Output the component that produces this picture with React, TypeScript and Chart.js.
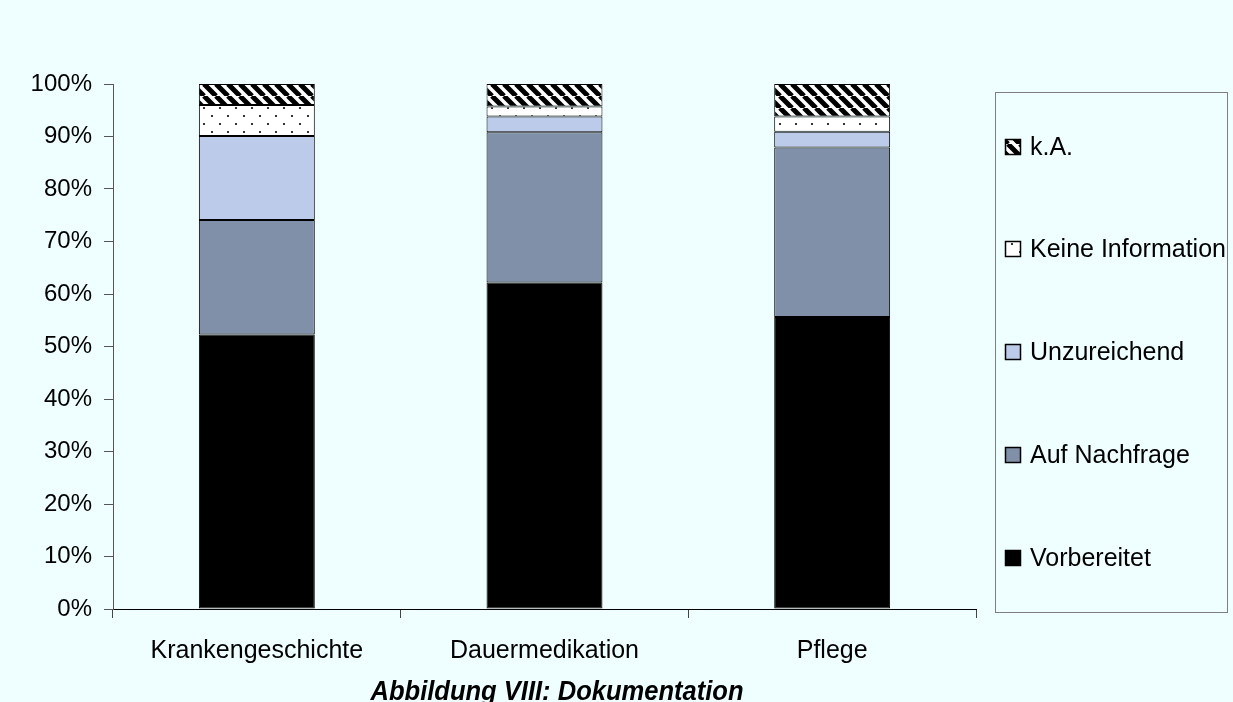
import React, { useEffect, useRef } from "react";
import { Chart, registerables } from "chart.js";

Chart.register(...registerables);

const categories = ["Krankengeschichte", "Dauermedikation", "Pflege"];
const seriesNames = ["Vorbereitet", "Auf Nachfrage", "Unzureichend", "Keine Information", "k.A."];
const vorbereitet = [52.3, 62.2, 55.6];
const aufNachfrage = [21.8, 28.6, 32.3];
const unzureichend = [16.0, 3.0, 3.0];
const keineInformation = [5.9, 1.9, 2.9];
const keineAngabe = [4.0, 4.3, 6.2];
const yTickValues = [0, 10, 20, 30, 40, 50, 60, 70, 80, 90, 100];
const chartTitle = "Abbildung VIII: Dokumentation";

const BG = "#EFFFFF";
const FONT = '"Liberation Sans", Arial, sans-serif';

function makeHatch(): CanvasPattern | string {
  const s = 12;
  const c = document.createElement("canvas");
  c.width = s;
  c.height = s;
  const g = c.getContext("2d");
  if (!g) return "#000";
  g.fillStyle = "#fff";
  g.fillRect(0, 0, s, s);
  g.strokeStyle = "#000";
  g.lineWidth = 5;
  g.beginPath();
  for (const o of [-s, 0, s]) {
    g.moveTo(o, 0);
    g.lineTo(o + s, s);
  }
  g.stroke();
  return g.createPattern(c, "repeat") || "#000";
}

function makeDots(): CanvasPattern | string {
  const s = 16;
  const c = document.createElement("canvas");
  c.width = s;
  c.height = s;
  const g = c.getContext("2d");
  if (!g) return "#fff";
  g.fillStyle = "#fff";
  g.fillRect(0, 0, s, s);
  g.fillStyle = "#333";
  g.fillRect(3, 3, 2, 2);
  g.fillRect(11, 11, 2, 2);
  return g.createPattern(c, "repeat") || "#fff";
}

export default function App() {
  const ref = useRef<HTMLCanvasElement | null>(null);

  useEffect(() => {
    const canvas = ref.current;
    if (!canvas) return;
    const hatch = makeHatch();
    const dots = makeDots();
    const fills: any[] = ["#000000", "#8090A9", "#BCCBE9", dots, hatch];
    const values = [vorbereitet, aufNachfrage, unzureichend, keineInformation, keineAngabe];

    const bgPlugin = {
      id: "bg",
      beforeDraw(chart: any) {
        const ctx = chart.ctx;
        ctx.save();
        ctx.fillStyle = BG;
        ctx.fillRect(0, 0, chart.width, chart.height);
        ctx.restore();
      },
    };

    const extrasPlugin = {
      id: "extras",
      afterDraw(chart: any) {
        const ctx = chart.ctx;
        ctx.save();
        // legend box
        ctx.strokeStyle = "#7F7F7F";
        ctx.lineWidth = 1;
        ctx.strokeRect(995.5, 92.5, 232, 520);
        const ys = [147, 249, 352, 455, 558];
        const order = [4, 3, 2, 1, 0];
        ctx.font = `25px ${FONT}`;
        ctx.textBaseline = "middle";
        ctx.textAlign = "left";
        order.forEach((di, i) => {
          const ds = chart.data.datasets[di];
          const y = ys[i];
          ctx.fillStyle = ds.backgroundColor;
          ctx.fillRect(1005, y - 8, 16, 16);
          ctx.strokeStyle = "#000";
          ctx.lineWidth = 1.5;
          ctx.strokeRect(1005.5, y - 7.5, 15, 15);
          ctx.fillStyle = "#000";
          ctx.fillText(ds.label, 1030, y + 1);
        });
        // title
        ctx.font = `italic bold 28px ${FONT}`;
        ctx.textAlign = "left";
        ctx.textBaseline = "alphabetic";
        ctx.fillStyle = "#000";
        const targetW = 373;
        const w = ctx.measureText(chartTitle).width;
        const sx = targetW / w;
        ctx.translate(557 - targetW / 2, 700);
        ctx.scale(sx, 1);
        ctx.fillText(chartTitle, 0, 0);
        ctx.restore();
      },
    };

    const chart = new Chart(canvas, {
      type: "bar",
      data: {
        labels: categories,
        datasets: seriesNames.map((name, i) => ({
          label: name,
          data: values[i],
          backgroundColor: fills[i],
          borderColor: "#000",
          borderWidth: 1,
          borderSkipped: false,
          barPercentage: 0.403,
          categoryPercentage: 1,
        })),
      },
      options: {
        responsive: false,
        animation: false,
        devicePixelRatio: 1,
        layout: { padding: { top: 84, right: 257, left: 0, bottom: 0 } },
        plugins: {
          legend: { display: false },
          tooltip: { enabled: false },
          title: { display: false },
        },
        scales: {
          x: {
            stacked: true,
            afterFit: (s: any) => {
              s.height = 93;
            },
            grid: {
              offset: true,
              drawOnChartArea: false,
              drawTicks: true,
              tickLength: 9,
              color: "#444",
            },
            border: { color: "#000", width: 1 },
            ticks: {
              padding: 18,
              color: "#000",
              font: { family: FONT, size: 25 },
              maxRotation: 0,
              autoSkip: false,
            },
          },
          y: {
            stacked: true,
            min: 0,
            max: 100,
            afterFit: (s: any) => {
              s.width = 113;
            },
            afterBuildTicks: (s: any) => {
              s.ticks = yTickValues.map((v) => ({ value: v }));
            },
            grid: {
              drawOnChartArea: false,
              drawTicks: true,
              tickLength: 9,
              color: "#555",
            },
            border: { color: "#555", width: 1 },
            ticks: {
              padding: 12,
              color: "#000",
              font: { family: FONT, size: 24 },
              callback: (v: any) => `${v}%`,
            },
          },
        },
      },
      plugins: [bgPlugin, extrasPlugin],
    } as any);

    return () => chart.destroy();
  }, []);

  return (
    <div style={{ position: "fixed", left: 0, top: 0, width: 1233, height: 702, background: BG }}>
      <canvas ref={ref} width={1233} height={702} style={{ display: "block", width: 1233, height: 702 }} />
    </div>
  );
}
